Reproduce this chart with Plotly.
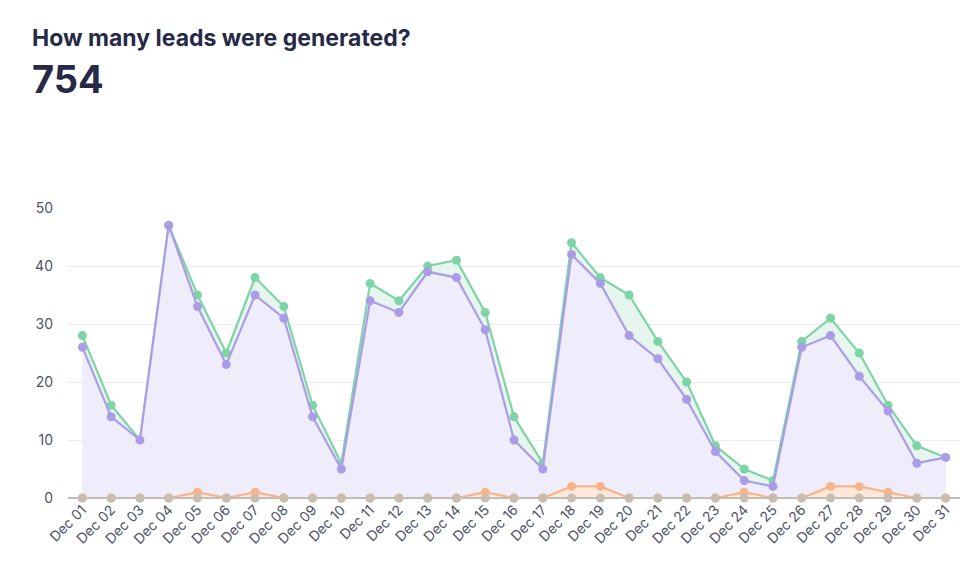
import plotly.graph_objects as go

days = [f"Dec {d:02d}" for d in range(1, 32)]
total_leads = [28, 16, 10, 47, 35, 25, 38, 33, 16, 6, 37, 34, 40, 41, 32, 14, 6,
               44, 38, 35, 27, 20, 9, 5, 3, 27, 31, 25, 16, 9, 7]
purple_leads = [26, 14, 10, 47, 33, 23, 35, 31, 14, 5, 34, 32, 39, 38, 29, 10, 5,
                42, 37, 28, 24, 17, 8, 3, 2, 26, 28, 21, 15, 6, 7]
orange_leads = [0, 0, 0, 0, 1, 0, 1, 0, 0, 0, 0, 0, 0, 0, 1, 0, 0,
                2, 2, 0, 0, 0, 0, 1, 0, 0, 2, 2, 1, 0, 0]
gray_leads = [0] * 31
y_ticks = [0, 10, 20, 30, 40, 50]
headline = "How many leads were generated?"
total_text = "754"

fig = go.Figure()

def add(vals, line, fillc):
    fig.add_trace(go.Scatter(
        x=days, y=vals, mode="lines+markers",
        line=dict(color=line, width=2.2),
        marker=dict(color=line, size=9),
        fill="tozeroy" if fillc else None,
        fillcolor=fillc,
        cliponaxis=False,
        hoverinfo="x+y",
        showlegend=False,
    ))

add(total_leads, "#7fd4a6", "#e6f6ee")
add(purple_leads, "#ab9ce8", "#efedfb")
add(orange_leads, "#f7b48a", "#fde8da")
add(gray_leads, "#c8beb0", None)

fig.add_annotation(text=headline, x=30, y=38, xref="paper", yref="paper",
                   showarrow=False, xanchor="left", yanchor="middle",
                   font=dict(family="Inter", size=23, color="#262a47", weight="bold"))
fig.add_annotation(text=total_text, x=30, y=79, xref="paper", yref="paper",
                   showarrow=False, xanchor="left", yanchor="middle",
                   font=dict(family="Inter", size=38, color="#262a47", weight="bold"))

L, R, T, B = 68, 16, 208, 76
W, H = 976, 574
pw, ph = W - L - R, H - T - B
for a in fig.layout.annotations:
    a.x = (a.x - L) / pw
    a.y = (H - B - a.y) / ph

fig.update_layout(
    width=W, height=H,
    margin=dict(l=L, r=R, t=T, b=B),
    paper_bgcolor="white", plot_bgcolor="white",
    font=dict(family="Inter", color="#4f5468", size=14),
    xaxis=dict(range=[-0.5, 30.5], tickangle=-45, showgrid=False,
               showline=False, zeroline=False, ticks="",
               tickfont=dict(size=14, color="#4f5468")),
    yaxis=dict(range=[0, 50], tickvals=y_ticks, gridcolor="#ebebf0",
               zeroline=True, zerolinecolor="#bdbdbd", zerolinewidth=1.5,
               showline=False, ticks="", ticklen=0, ticklabelstandoff=14,
               tickfont=dict(size=14, color="#4f5468")),
)

fig.write_html("out.html")
